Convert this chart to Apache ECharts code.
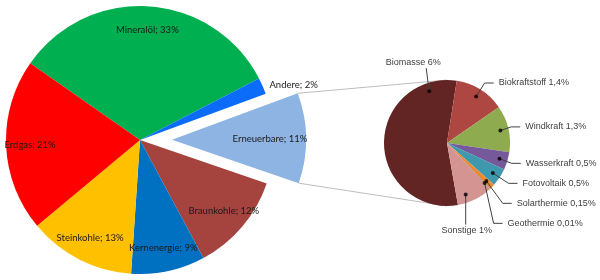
<!DOCTYPE html>
<html>
<head>
<meta charset="utf-8">
<script src="https://cdn.jsdelivr.net/npm/echarts@6/dist/echarts.min.js"></script>
<style>
  html, body { margin: 0; padding: 0; background: #fff; }
  #chart { width: 600px; height: 280px; }
</style>
</head>
<body>
<div id="chart"></div>
<script>
// Hauptkreis: Energieträger
const mainNames = ['Mineralöl', 'Andere', 'Erneuerbare', 'Braunkohle', 'Kernenergie', 'Steinkohle', 'Erdgas']
const mainValues = [33, 2, 11, 12, 9, 13, 21]
const mainColors = ['#00B050', '#0A6CF8', '#8DB4E2', '#A5433F', '#0070C0', '#FFC000', '#FF0000']

// Nebenkreis: Aufteilung der Erneuerbaren
const subNames = ['Biomasse', 'Biokraftstoff', 'Windkraft', 'Wasserkraft', 'Fotovoltaik', 'Solarthermie', 'Geothermie', 'Sonstige']
const subValues = [6, 1.4, 1.3, 0.5, 0.5, 0.15, 0.01, 1]
const subColors = ['#632523', '#AE4641', '#8FAB4F', '#76599A', '#3E98AE', '#EC8B2E', '#2C4D75', '#D49492']

const MAIN_C = [140, 140], MAIN_R = 134, MAIN_START = 145, EXPLODE = 32
const SUB_C = [447, 143], SUB_R = 63, SUB_START = -80, DOT_R = 0.87

const mainTotal = mainValues.reduce((a, b) => a + b, 0)
const subTotal = subValues.reduce((a, b) => a + b, 0)
const deg = Math.PI / 180
const fmt = v => String(v).replace('.', ',')

// Ankerpunkte (Wertposition im Nebenkreis) fuer die Punkte der Fuehrungslinien
let cum = 0
const anchors = subValues.map((v, i) => {
  let a = cum + v / 2
  if (i === 0) a = cum + v * 0.86
  if (i === subValues.length - 1) a = cum + v * 0.7
  cum += v
  return a
})
function subPoint(val, frac) {
  const ang = (SUB_START - val / subTotal * 360) * deg
  return [SUB_C[0] + SUB_R * frac * Math.cos(ang), SUB_C[1] - SUB_R * frac * Math.sin(ang)]
}

// Verbindungslinien vom abgesetzten Segment zum Nebenkreis
const eIdx = mainNames.indexOf('Erneuerbare')
const before = mainValues.slice(0, eIdx).reduce((a, b) => a + b, 0)
const a1 = MAIN_START - before / mainTotal * 360
const a2 = MAIN_START - (before + mainValues[eIdx]) / mainTotal * 360
const am = (a1 + a2) / 2
const apex = [MAIN_C[0] + EXPLODE * Math.cos(am * deg), MAIN_C[1] - EXPLODE * Math.sin(am * deg)]
const corner = a => [apex[0] + MAIN_R * Math.cos(a * deg), apex[1] - MAIN_R * Math.sin(a * deg)]
const c1 = corner(a1), c2 = corner(a2)

const chart = echarts.init(document.getElementById('chart'))

const option = {
  animation: false,
  polar: { center: SUB_C, radius: SUB_R },
  angleAxis: { type: 'value', min: 0, max: subTotal, startAngle: SUB_START, clockwise: true, show: false },
  radiusAxis: { type: 'value', min: 0, max: 1, show: false },
  graphic: [
    { type: 'line', z: 0, silent: true, shape: { x1: c1[0], y1: c1[1], x2: SUB_C[0], y2: SUB_C[1] - SUB_R }, style: { stroke: '#bdbdbd', lineWidth: 1 } },
    { type: 'line', z: 0, silent: true, shape: { x1: c2[0], y1: c2[1], x2: SUB_C[0], y2: SUB_C[1] + SUB_R }, style: { stroke: '#bdbdbd', lineWidth: 1 } }
  ],
  series: [
    {
      type: 'pie',
      center: MAIN_C,
      radius: MAIN_R,
      startAngle: MAIN_START,
      selectedMode: 'single',
      selectedOffset: EXPLODE,
      silent: true,
      z: 2,
      label: { show: false },
      labelLine: { show: false },
      itemStyle: { borderWidth: 0 },
      data: mainNames.map((n, i) => ({
        name: n, value: mainValues[i], selected: i === eIdx,
        itemStyle: { color: mainColors[i] }
      }))
    },
    {
      // nur Beschriftung des Hauptkreises
      type: 'pie',
      center: MAIN_C,
      radius: [80, MAIN_R],
      startAngle: MAIN_START,
      selectedMode: 'single',
      selectedOffset: 20,
      silent: true,
      z: 3,
      itemStyle: { color: 'rgba(0,0,0,0)', borderWidth: 0 },
      label: {
        position: 'inside',
        formatter: p => p.name + '; ' + p.value + '%',
        fontFamily: 'Lato',
        fontSize: 9.5,
        color: '#1a1a1a'
      },
      labelLine: { show: false, length: 2, length2: 0 },
      data: mainNames.map((n, i) => ({
        name: n, value: mainValues[i], selected: i === eIdx,
        label: n === 'Andere' ? { position: 'outside' } : undefined
      }))
    },
    {
      type: 'pie',
      center: SUB_C,
      radius: SUB_R,
      startAngle: SUB_START,
      silent: true,
      z: 2,
      label: { show: false },
      labelLine: { show: false },
      itemStyle: { borderWidth: 0 },
      data: subNames.map((n, i) => ({ name: n, value: subValues[i], itemStyle: { color: subColors[i] } }))
    },
    {
      // Beschriftung des Nebenkreises
      type: 'pie',
      center: SUB_C,
      radius: SUB_R * DOT_R,
      startAngle: SUB_START,
      silent: true,
      z: 4,
      itemStyle: { color: 'rgba(0,0,0,0)', borderWidth: 0 },
      label: {
        position: 'outside',
        formatter: p => p.name + ' ' + fmt(p.value) + '%',
        fontFamily: 'Liberation Sans',
        fontSize: 9,
        lineHeight: 18,
        color: '#404040',
        bleedMargin: 0,
        overflow: 'none'
      },
      labelLine: { show: true, length: 16, length2: 9, lineStyle: { color: '#404040', width: 1 } },
      labelLayout: p => {
        const last = subValues.length - 1
        if (p.dataIndex !== 0 && p.dataIndex !== last) return {}
        const d = subPoint(anchors[p.dataIndex], DOT_R)
        if (p.dataIndex === 0) {
          return {
            x: d[0] - 16, y: d[1] - 20, align: 'center', verticalAlign: 'bottom',
            labelLinePoints: [d, [d[0] - 3, d[1] - 23], [d[0] - 3, d[1] - 23]]
          }
        }
        return {
          x: d[0] + 1, y: d[1] + 27, align: 'center', verticalAlign: 'top',
          labelLinePoints: [d, [d[0], d[1] + 30], [d[0], d[1] + 30]]
        }
      },
      data: subNames.map((n, i) => ({ name: n, value: subValues[i] }))
    },
    {
      type: 'scatter',
      coordinateSystem: 'polar',
      symbolSize: 4,
      silent: true,
      z: 5,
      itemStyle: { color: '#000' },
      data: anchors.map(a => [DOT_R, a])
    }
  ]
}
chart.setOption(option)
</script>
</body>
</html>
